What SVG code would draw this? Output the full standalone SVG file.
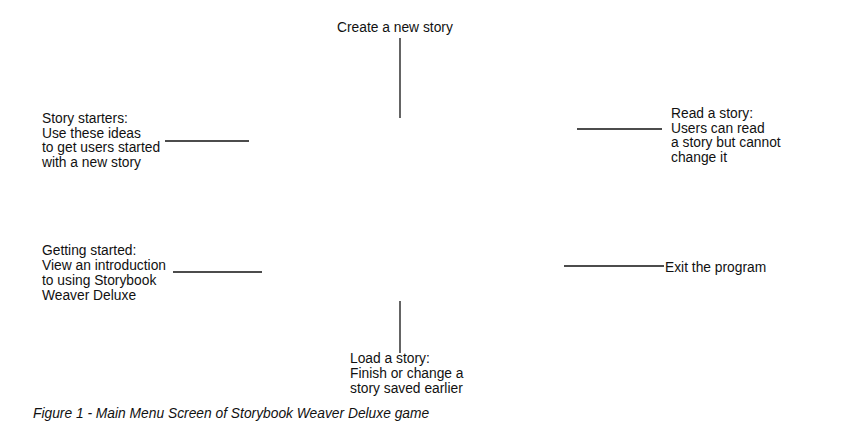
<svg xmlns="http://www.w3.org/2000/svg" width="865" height="427" viewBox="0 0 865 427">
<style>
text{font-family:"Liberation Sans",Arial,sans-serif;font-size:13.8px;fill:#111}
.cap{font-style:italic}
line{stroke:#111;stroke-width:1.3}
</style>
<rect width="865" height="427" fill="#fff"/>
<g id="connectors">
<line x1="400" y1="38" x2="400" y2="118"/>
<line x1="165" y1="141" x2="249" y2="141"/>
<line x1="577" y1="129" x2="662" y2="129"/>
<line x1="173" y1="272" x2="262" y2="272"/>
<line x1="564" y1="266" x2="664" y2="266"/>
<line x1="400" y1="301" x2="400" y2="353"/>
</g>
<g id="create"><text x="337" y="32">Create a new story</text></g>
<g id="starters"><text x="42" y="123">Story starters:</text><text x="42" y="138">Use these ideas</text><text x="42" y="152">to get users started</text><text x="42" y="167">with a new story</text></g>
<g id="read"><text x="671" y="118">Read a story:</text><text x="671" y="133">Users can read</text><text x="671" y="147">a story but cannot</text><text x="671" y="162">change it</text></g>
<g id="getting"><text x="42" y="255">Getting started:</text><text x="42" y="270">View an introduction</text><text x="42" y="285">to using Storybook</text><text x="42" y="300">Weaver Deluxe</text></g>
<g id="exit"><text x="665" y="272">Exit the program</text></g>
<g id="load"><text x="350" y="363">Load a story:</text><text x="350" y="378">Finish or change a</text><text x="350" y="393">story saved earlier</text></g>
<text class="cap" x="33" y="418">Figure 1 - Main Menu Screen of Storybook Weaver Deluxe game</text>
</svg>
